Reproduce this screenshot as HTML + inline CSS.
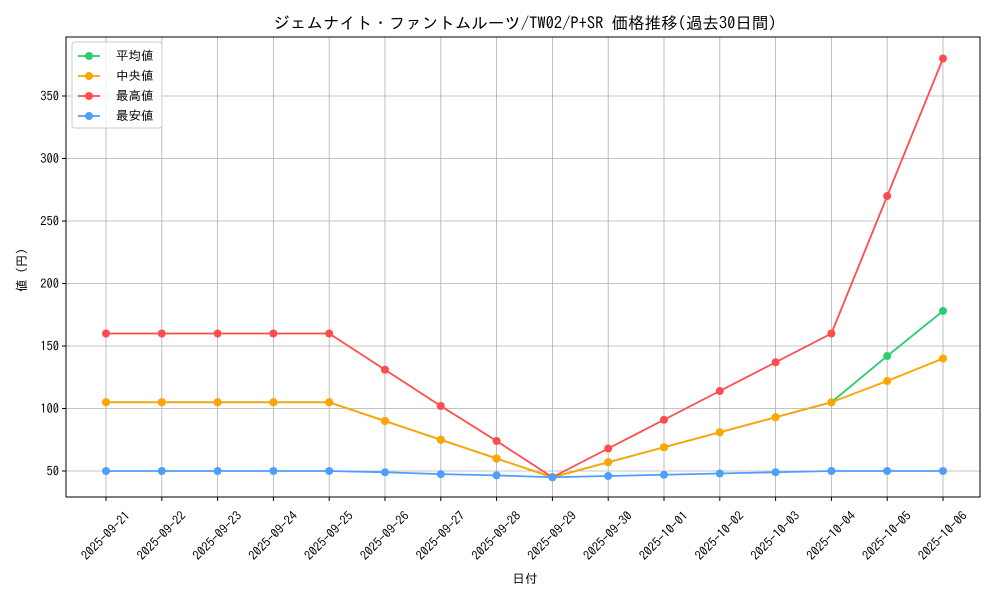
<!DOCTYPE html>
<html><head><meta charset="utf-8"><style>body{margin:0;background:#fff}</style></head><body>
<svg width="1000" height="600" xmlns="http://www.w3.org/2000/svg" font-family="'IPAGothic','Noto Sans CJK JP',sans-serif" font-size="12.5">
<rect width="1000" height="600" fill="#fff"/>
<text x="525" y="29" text-anchor="middle" font-size="16.5">ジェムナイト・ファントムルーツ/TW02/P+SR 価格推移(過去30日間)</text>
<g id="grid" stroke="#b0b0b0" stroke-width="0.8"></g>
<rect x="66" y="37" width="914" height="460" fill="none" stroke="#000" stroke-width="1"/>
<g id="ticks"></g>
<g id="series"></g>
<text x="525" y="583" text-anchor="middle">日付</text>
<text transform="translate(26,267) rotate(-90)" text-anchor="middle">値（円）</text>
<g>
<rect x="72" y="42" width="90" height="86" fill="#fff" fill-opacity="0.8" stroke="#ccc" rx="3"/>
<line x1="78" y1="56" x2="100" y2="56" stroke="#2ecc71" stroke-width="1.8"/><circle cx="89" cy="56" r="4" fill="#2ecc71"/><text x="116" y="60">平均値</text>
<line x1="78" y1="76" x2="100" y2="76" stroke="#ffa500" stroke-width="1.8"/><circle cx="89" cy="76" r="4" fill="#ffa500"/><text x="116" y="80">中央値</text>
<line x1="78" y1="96" x2="100" y2="96" stroke="#ff4d4d" stroke-width="1.8"/><circle cx="89" cy="96" r="4" fill="#ff4d4d"/><text x="116" y="100">最高値</text>
<line x1="78" y1="116" x2="100" y2="116" stroke="#4d9fff" stroke-width="1.8"/><circle cx="89" cy="116" r="4" fill="#4d9fff"/><text x="116" y="120">最安値</text>
</g>
<script>
const ns="http://www.w3.org/2000/svg";
const X=i=>106+i*55.8, Y=v=>471-(v-50)*1.25;
const dates=["2025-09-21","2025-09-22","2025-09-23","2025-09-24","2025-09-25","2025-09-26","2025-09-27","2025-09-28","2025-09-29","2025-09-30","2025-10-01","2025-10-02","2025-10-03","2025-10-04","2025-10-05","2025-10-06"];
function el(t,a,p,txt){const e=document.createElementNS(ns,t);for(const k in a)e.setAttribute(k,a[k]);if(txt)e.textContent=txt;p.appendChild(e);return e;}
const g=document.getElementById("grid"),tk=document.getElementById("ticks"),s=document.getElementById("series");
dates.forEach((d,i)=>{const x=X(i);el("line",{x1:x,x2:x,y1:37,y2:497},g);el("line",{x1:x,x2:x,y1:497,y2:501,stroke:"#000"},tk);
el("text",{x:0,y:4.5,"text-anchor":"middle",transform:`translate(${x-0.5},${535.5}) rotate(-45)`},tk,d);});
[50,100,150,200,250,300,350].forEach(v=>{const y=Y(v);el("line",{x1:66,x2:980,y1:y,y2:y},g);el("line",{x1:62,x2:66,y1:y,y2:y,stroke:"#000"},tk);el("text",{x:59,y:y+4.5,"text-anchor":"end"},tk,v);});
const data=[
["#2ecc71",[105,105,105,105,105,90,75,60,45,57,69,81,93,105,142,178]],
["#ffa500",[105,105,105,105,105,90,75,60,45,57,69,81,93,105,122,140]],
["#ff4d4d",[160,160,160,160,160,131,102,74,45,68,91,114,137,160,270,380]],
["#4d9fff",[50,50,50,50,50,49,47.5,46.5,45,46,47,48,49,50,50,50]]];
data.forEach(([c,v])=>{el("polyline",{points:v.map((y,i)=>X(i)+","+Y(y)).join(" "),fill:"none",stroke:c,"stroke-width":1.8},s);
v.forEach((y,i)=>el("circle",{cx:X(i),cy:Y(y),r:4,fill:c},s));});
</script>
</svg>
</body></html>
